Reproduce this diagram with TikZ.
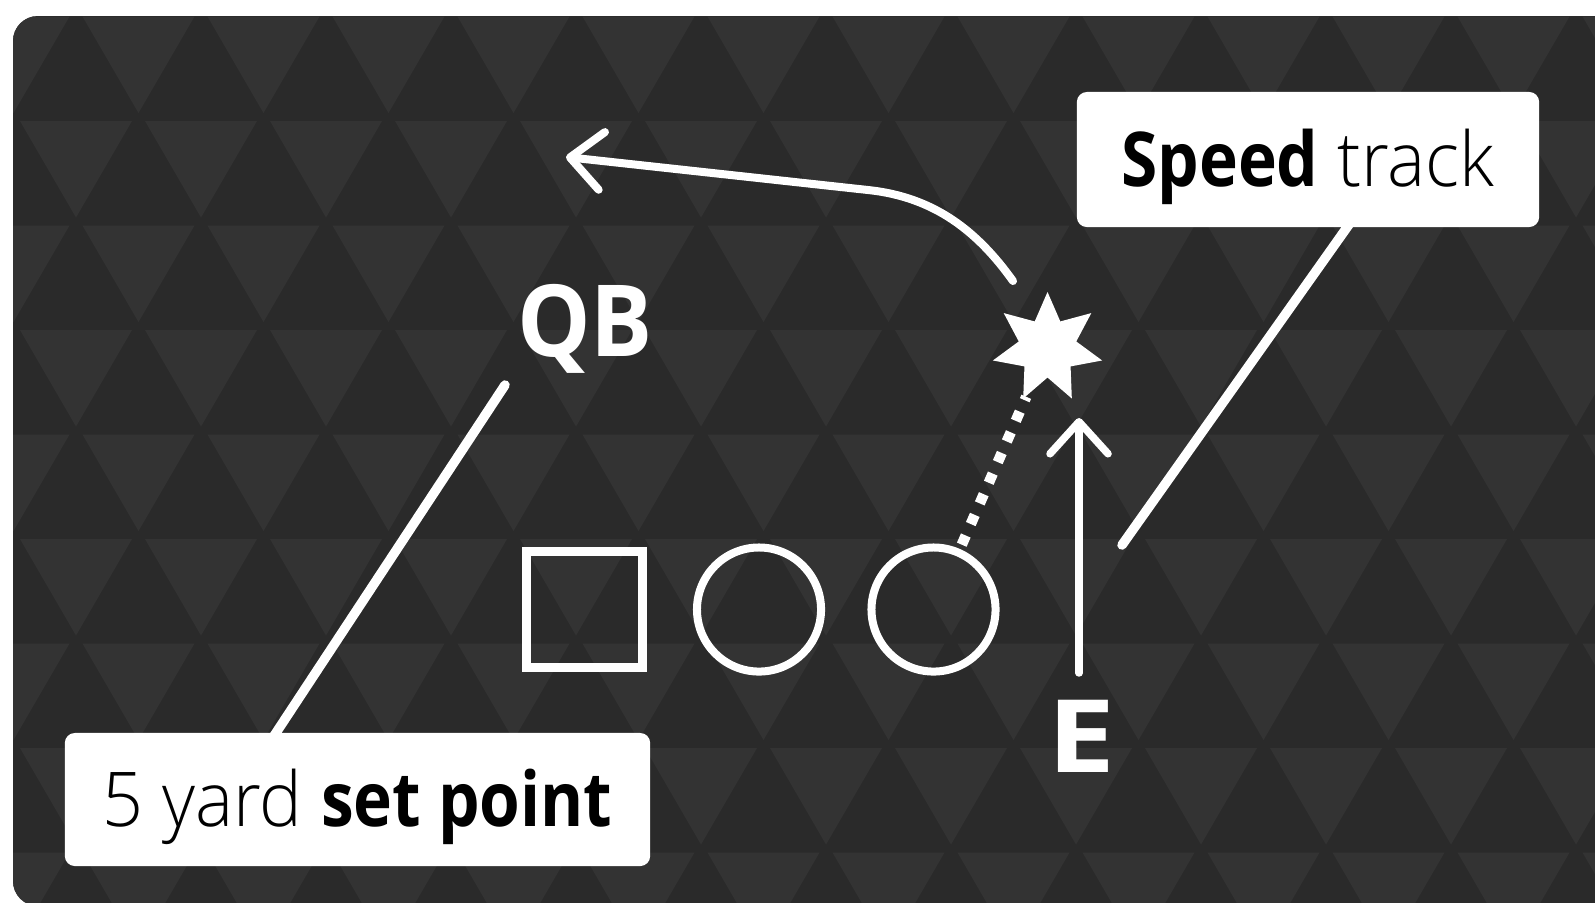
\documentclass[tikz,border=0pt]{standalone}
\usepackage{fontspec}
\setmainfont{Open Sans}[UprightFont=* Light, BoldFont=* Bold, UprightFeatures={FakeStretch=0.95}, BoldFeatures={FakeStretch=0.87}]
\newfontfamily\qbfont{Open Sans}[UprightFont=* Bold, FakeStretch=0.93]
\newfontfamily\efont{Open Sans}[UprightFont=* Bold, FakeStretch=1.2]
\usetikzlibrary{shapes.geometric,arrows.meta}
\definecolor{panelL}{HTML}{333333}
\definecolor{panelD}{HTML}{2A2A2A}
\begin{document}
\begin{tikzpicture}[x=0.01cm,y=-0.01cm,
  leader/.style={draw=white, line width=0.095cm, line cap=round},
  labelbox/.style={fill=white, rounded corners=0.1cm, inner sep=0pt, text height=0.54cm, text depth=0pt, font=\fontsize{21.5pt}{24pt}\selectfont, text=black},
  player/.style={text=white, inner sep=0pt, text height=0.71cm, text depth=0pt},
  barb/.style={-{Straight Barb[length=0.32cm, width=0.58cm, round]}, draw=white, line cap=round, line join=round},
  lineman/.style={draw=white, inner sep=0pt},
  blockdash/.style={draw=white, line width=0.105cm, dash pattern=on 0.1cm off 0.125cm, dash phase=0.178cm},
]
\useasboundingbox (0,0) rectangle (1595,902);
\fill[white] (0,0) rectangle (1595,902);
% panel with triangle pattern
\begin{scope}
 \clip[rounded corners=0.25cm] (13,16) rectangle (1640,906);
 \fill[panelD] (0,0) rectangle (1640,910);
 \foreach \i in {-1,...,8} {
   \pgfmathsetmacro\yt{13.5+104.5*\i+3}
   \pgfmathsetmacro\yb{13.5+104.5*\i+104.5-5}
   \pgfmathsetmacro\off{mod(\i+2,2)==0 ? 138.5 : 76}
   \foreach \k in {-1,...,13} {
     \pgfmathsetmacro\cx{\off+125*\k}
     \fill[panelL] (\cx-56,\yt) -- (\cx,\yb) -- (\cx+56,\yt) -- cycle;
   }
 }
\end{scope}
% coordinates
\coordinate (qlead) at (505,385);
\coordinate (qfoot) at (266,748);
\coordinate (slead) at (1122,545);
\coordinate (sfoot) at (1355,216);
\coordinate (cstart) at (1013,281);
\coordinate (cend) at (566,157);
\coordinate (etip) at (1079,418);
% leaders
\draw[leader] (qlead) -- (qfoot);
\draw[leader] (slead) -- (sfoot);
% label boxes
\node[labelbox, minimum width=5.85cm, minimum height=1.33cm] (setpt) at (357.5,799.5) {5 yard \textbf{set point}};
\node[labelbox, minimum width=4.62cm, minimum height=1.35cm] (speed) at (1308,159.5) {\textbf{Speed} track};
% players
\node[lineman, line width=0.09cm, minimum size=1.16cm] (sq) at (584.5,609.5) {};
\node[lineman, circle, line width=0.08cm, minimum size=1.24cm] (c1) at (759,609.5) {};
\node[lineman, circle, line width=0.08cm, minimum size=1.24cm] (c2) at (933.5,609.5) {};
\node[player, font=\qbfont\fontsize{28.3pt}{30pt}\selectfont] (qb) at (585,321) {QB};
\node[player, font=\efont\fontsize{28.8pt}{30pt}\selectfont, outer ysep=0.28cm] (e) at (1081.5,736.5) {E};
% routes
\node[star, star points=7, star point ratio=1.9, fill=white, inner sep=0pt, minimum size=1.12cm] (burst) at (1047.5,348) {};
\draw[blockdash] (c2) -- (burst);
\draw[barb, line width=0.08cm] (cstart) .. controls (978,232) and (935,197) .. (868,190) -- (cend);
\draw[barb, line width=0.075cm] (e.north -| etip) -- (etip);
\end{tikzpicture}
\end{document}
